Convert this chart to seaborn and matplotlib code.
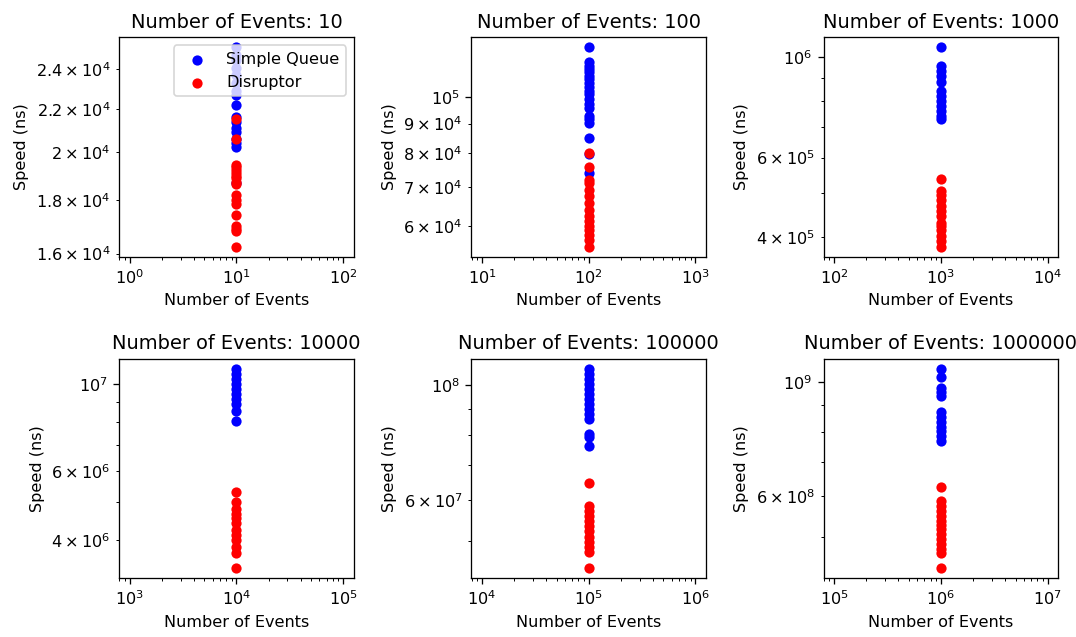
import matplotlib
matplotlib.use("Agg")
import matplotlib.pyplot as plt
import seaborn as sns
import pandas as pd

event_counts = [10, 100, 1000, 10000, 100000, 1000000]

# Measured run times (ns) per event count
simple_queue = {
    10: [25200, 24800, 24500, 24100, 23700, 23300, 22900, 22700, 22200, 21600,
         21400, 21100, 20900, 20600, 20400, 20250, 18700],
    100: [121600, 114600, 113100, 111600, 110100, 108700, 107250, 105800, 103800,
          102400, 101100, 99080, 97140, 95880, 92750, 91530, 90350, 85150,
          79710, 74130],
    1000: [1052500, 955000, 934000, 910400, 880000, 843000, 821900, 801400,
           781200, 761400, 742200, 729600],
    10000: [10917000, 10602000, 10297000, 10000000, 9712000, 9432000, 9160000,
            8896000, 8556000, 8070000],
    100000: [107400000, 105000000, 102700000, 100450000, 98200000, 96100000,
             94000000, 91900000, 89900000, 87900000, 85900000, 80400000,
             79200000, 76100000],
    1000000: [1058000000, 1019500000, 972000000, 954000000, 940000000,
              872500000, 853000000, 834500000, 816000000, 804000000,
              786000000, 769000000],
}

disruptor = {
    10: [21500, 20600, 19450, 19350, 19250, 19100, 19000, 18900, 18750, 18650,
         18200, 18000, 17850, 17400, 17000, 16900, 16800, 16250],
    100: [80250, 75910, 72180, 71240, 69380, 67560, 65810, 64100, 62440, 61210,
          60000, 59210, 58050, 56910, 55420],
    1000: [539200, 505200, 496600, 484100, 467900, 456100, 444700, 429900,
           422500, 415400, 401500, 391400, 381400],
    10000: [5307000, 5005000, 4814000, 4675000, 4541000, 4410000, 4241000,
            4119000, 4000000, 3847000, 3700000, 3389000],
    100000: [64500000, 58400000, 57100000, 55900000, 54600000, 53400000,
             52300000, 50800000, 49600000, 48500000, 47500000, 44200000],
    1000000: [626000000, 588500000, 575500000, 563000000, 550500000,
              538500000, 527000000, 519000000, 507500000, 496000000,
              485500000, 474500000, 466000000, 435500000],
}

series_names = ["Simple Queue", "Disruptor"]
series_colors = {"Simple Queue": "blue", "Disruptor": "red"}

rows = []
for n in event_counts:
    for name, src in zip(series_names, [simple_queue, disruptor]):
        for v in src[n]:
            rows.append({"events": n, "speed": v, "impl": name})
df = pd.DataFrame(rows)

DPI = 116.5
fig, axes = plt.subplots(2, 3, figsize=(1076 / DPI, 637 / DPI), dpi=DPI)

for ax, n in zip(axes.flat, event_counts):
    sub = df[df["events"] == n]
    for name in series_names:
        part = sub[sub["impl"] == name]
        sns.scatterplot(data=part, x="events", y="speed", color=series_colors[name],
                        s=40, linewidth=0, ax=ax, label=name, legend=False)
    ax.set_xscale("log")
    ax.set_yscale("log")
    ax.set_title(f"Number of Events: {n}", fontsize=12)
    ax.set_xlabel("Number of Events")
    ax.set_ylabel("Speed (ns)")

axes.flat[0].legend(loc="upper right")

fig.subplots_adjust(left=0.1106, right=0.9836, top=0.9414, bottom=0.0922,
                    wspace=0.5, hspace=0.468)
fig.savefig("out.png", dpi=DPI)
